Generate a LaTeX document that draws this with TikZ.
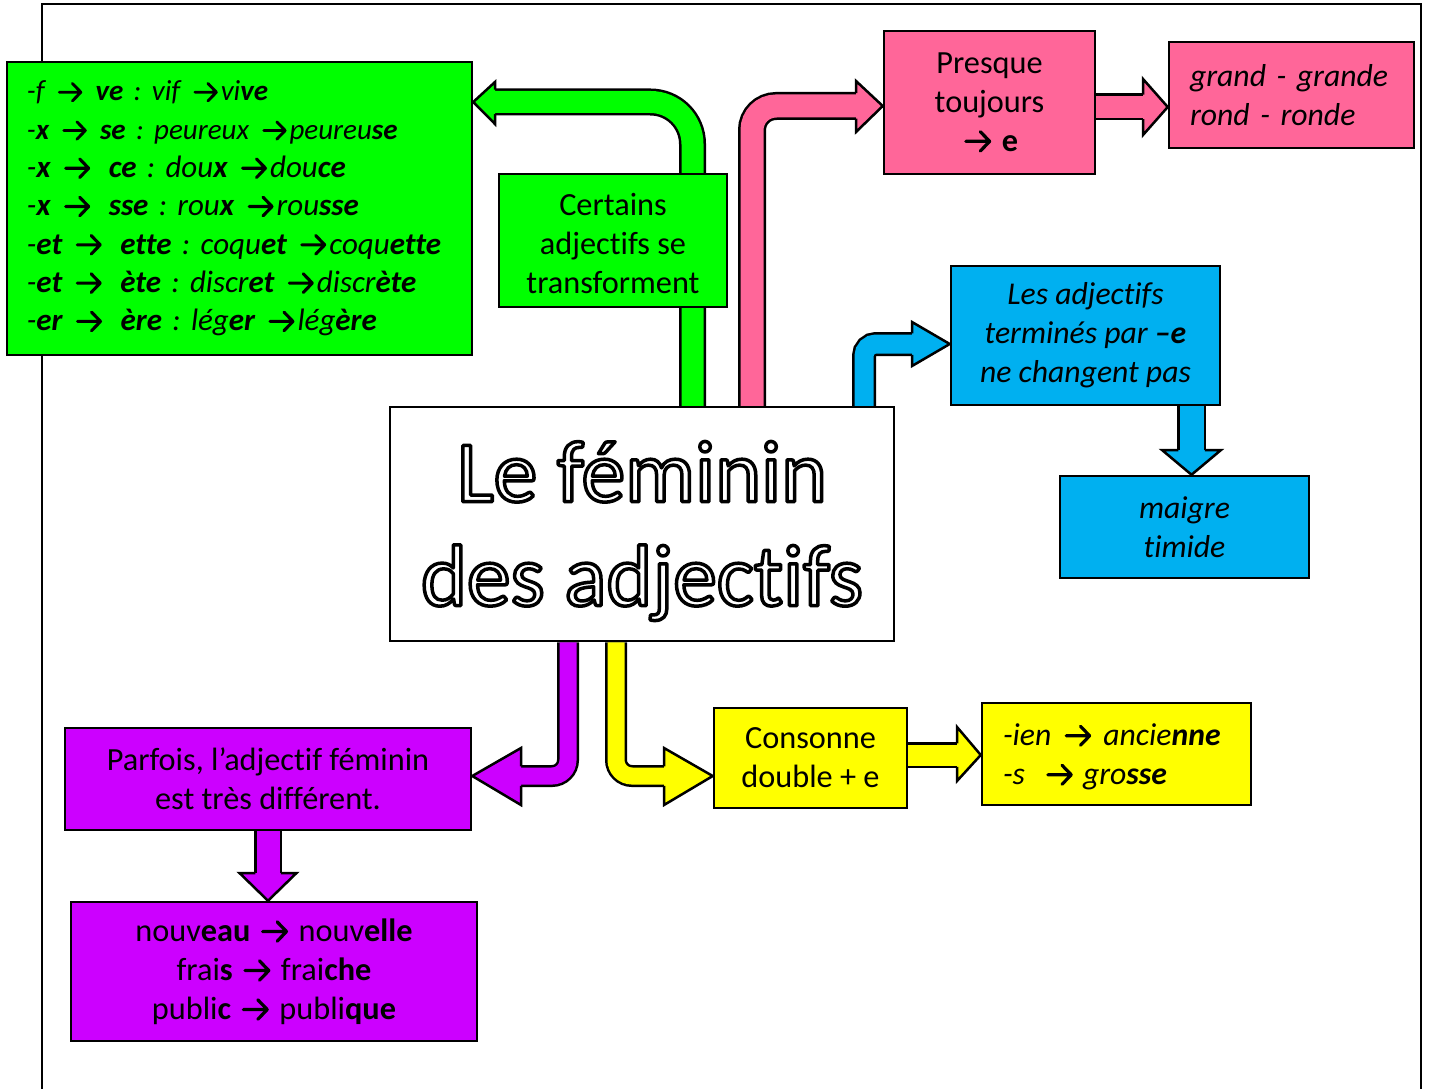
\documentclass[tikz,border=0pt]{standalone}
\usepackage{fontspec}
\setmainfont{Carlito}[Ligatures=NoCommon]
\usetikzlibrary{calc,backgrounds}
\definecolor{cgreen}{HTML}{00FF00}
\definecolor{cpink}{HTML}{FF6699}
\definecolor{cblue}{HTML}{00B0F0}
\definecolor{cpurple}{HTML}{CC00FF}
\definecolor{cyellow}{HTML}{FFFF00}
\frenchspacing
\hyphenpenalty=10000
\exhyphenpenalty=10000
\newcommand\arr{\hspace{0.1em}\tikz[baseline=0pt,x=1em,y=1em]\draw[black,line width=0.1em,line cap=round,line join=round] (0,0.3)--(0.74,0.3) (0.45,0.6)--(0.74,0.3)--(0.45,0);\hspace{0.1em}}
\newcommand\shaft[5]{%
  \draw[line width=#2pt,black,rounded corners=#4pt] #5;
  \draw[line width=#3pt,#1,rounded corners=#4pt] #5;}
\begin{document}
\begin{tikzpicture}[x=1pt,y=-1pt,
  box/.style={draw=black,line width=2.5pt,inner sep=0pt,align=center,
    font=\fontsize{32.3}{39}\selectfont},
  boxit/.style={box,font=\fontsize{31.7}{39}\selectfont\itshape},
  headst/.style={draw=black,line width=2.5pt,line join=miter}]
\useasboundingbox (0,0) rectangle (1429,1089);

% boxes
\node[box,fill=cgreen,minimum width=465pt,minimum height=293pt,text width=425pt,inner xsep=20pt,align=left,
  font=\fontsize{31}{38.3}\selectfont\itshape] (list) at (239.5,208.5)
 {\fontsize{29}{38.3}\selectfont
  -f \arr\ \textbf{ve} : vif \arr vi\textbf{ve}\\
  -\textbf{x} \arr\ \textbf{se} : peureux \arr peureu\textbf{se}\\
  \fontsize{31}{38.3}\selectfont
  -\textbf{x} \arr\ \,\textbf{ce} : dou\textbf{x} \arr dou\textbf{ce}\\
  -\textbf{x} \arr\ \,\textbf{sse} : rou\textbf{x} \arr rou\textbf{sse}\\
  -\textbf{et} \arr\ \,\textbf{ette} : coqu\textbf{et} \arr coqu\textbf{ette}\\
  -\textbf{et} \arr\ \,\textbf{ète} : discr\textbf{et} \arr discr\textbf{ète}\\
  -\textbf{er} \arr\ \,\textbf{ère} : lég\textbf{er} \arr lég\textbf{ère}};
\node[box,fill=cgreen,minimum width=228pt,minimum height=133pt] (cert) at (613,240.5)
 {\rule{0pt}{28pt}Certains\\adjectifs se\\transforment};
\node[box,fill=cpink,minimum width=211pt,minimum height=143pt] (presque) at (989.5,102.5)
 {Presque\\toujours\\\arr\ \textbf{e}};
\node[boxit,fill=cpink,minimum width=245pt,minimum height=106pt,text width=203pt,inner xsep=21pt,align=left] (grand) at (1291.5,95)
 {grand - grande\\rond - ronde};
\node[boxit,fill=cblue,minimum width=269pt,minimum height=139pt] (lesadj) at (1085.5,335.5)
 {Les adjectifs\\terminés par \textbf{–e}\\ne changent pas};
\node[boxit,fill=cblue,minimum width=249pt,minimum height=102pt] (maigre) at (1184.5,527)
 {maigre\\timide};
\node[box,fill=cpurple,minimum width=406pt,minimum height=102pt] (parfois) at (268,779)
 {Parfois, l’adjectif féminin\\est très différent.};
\node[box,fill=cpurple,minimum width=406pt,minimum height=139pt] (nouv) at (274,971.5)
 {nouv\textbf{eau} \arr\ nouv\textbf{elle}\\frai\textbf{s} \arr\ frai\textbf{che}\\publi\textbf{c} \arr\ publi\textbf{que}};
\node[box,fill=cyellow,minimum width=193pt,minimum height=100pt] (cons) at (810.5,758)
 {Consonne\\double + e};
\node[boxit,fill=cyellow,minimum width=269pt,minimum height=102pt,text width=227pt,inner xsep=21pt,align=left] (ien) at (1116.5,754)
 {\rule{0pt}{27pt}-ien\hspace{10pt}\arr\hspace{9pt}ancie\textbf{nne}\\-s\hspace{18pt}\arr\hspace{7pt}gro\textbf{sse}};
\node[box,fill=white,minimum width=504pt,minimum height=234pt] (title) at (642,524) {};
\node[align=center,inner sep=0pt,font=\fontsize{87.5}{104}\selectfont] (titletext) at (642,531)
 {\special{pdf:literal direct 1 Tr 3.5 w 1 j}Le féminin\\des adjectifs\special{pdf:literal direct 0 Tr 1 w 0 j}};

% named coordinates for the arrows
\coordinate (gc) at (692.5,102);
\coordinate (pc) at (752,106);
\coordinate (ps) at (1120,107);
\coordinate (bc) at (864,344);
\coordinate (bd) at (1191.5,440);
\coordinate (uc) at (568,776);
\coordinate (yc) at (616,776);
\coordinate (ys) at (930,755);
\coordinate (ud) at (268,860);

\begin{scope}[on background layer]
\draw[line width=2pt] (42,1089) -- (42,4) -- (1421,4) -- (1421,1089);
% green bent arrow
\shaft{cgreen}{27}{22}{42}{(title.north -| gc) -- (gc) -- (492,102)}
\filldraw[headst,fill=cgreen] (495,89.75) -- (495,82) -- (list.east |- gc) -- (495,124) -- (495,114.25);
% pink bent arrow
\shaft{cpink}{28}{23}{24}{(title.north -| pc) -- (pc) -- (859,106)}
\filldraw[headst,fill=cpink] (856,93.25) -- (856,81) -- (presque.west |- pc) -- (856,132) -- (856,118.75);
% pink straight arrow
\shaft{cpink}{27}{22}{0}{(presque.east |- ps) -- (1146,107)}
\filldraw[headst,fill=cpink] (1143,94.75) -- (1143,79) -- (grand.west |- ps) -- (1143,135) -- (1143,119.25);
% blue bent arrow
\shaft{cblue}{24}{19}{12}{(title.north -| bc) -- (bc) -- (915,344)}
\filldraw[headst,fill=cblue] (912,333.25) -- (912,322) -- (lesadj.west |- bc) -- (912,366) -- (912,354.75);
% blue down arrow
\shaft{cblue}{29}{24}{0}{(lesadj.south -| bd) -- (1191.5,453)}
\filldraw[headst,fill=cblue] (1178.25,450) -- (1162,450) -- (maigre.north -| bd) -- (1221,450) -- (1204.75,450);
% purple bent arrow
\shaft{cpurple}{22}{17}{16}{(title.south -| uc) -- (uc) -- (518,776)}
\filldraw[headst,fill=cpurple] (521,766.25) -- (521,748) -- (parfois.east |- uc) -- (521,805) -- (521,785.75);
% yellow bent arrow
\shaft{cyellow}{22}{17}{16}{(title.south -| yc) -- (yc) -- (667,776)}
\filldraw[headst,fill=cyellow] (664,766.25) -- (664,748) -- (cons.west |- yc) -- (664,805) -- (664,785.75);
% yellow straight arrow
\shaft{cyellow}{26}{21}{0}{(cons.east |- ys) -- (960,755)}
\filldraw[headst,fill=cyellow] (957,743.25) -- (957,727) -- (ien.west |- ys) -- (957,781) -- (957,766.75);
% purple down arrow
\shaft{cpurple}{28}{23}{0}{(parfois.south -| ud) -- (268,876)}
\filldraw[headst,fill=cpurple] (255.25,873) -- (239.5,873) -- (nouv.north -| ud) -- (296.5,873) -- (280.75,873);
\end{scope}
\end{tikzpicture}
\end{document}
